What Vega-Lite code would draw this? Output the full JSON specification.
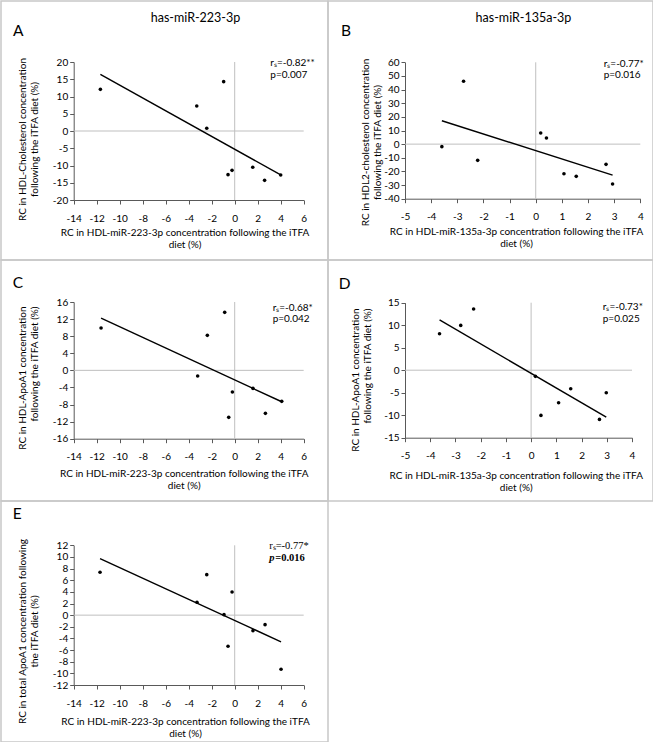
{
"$schema": "https://vega.github.io/schema/vega-lite/v6.json",
"padding": 0,
"background": "white",
"spacing": 0,
"bounds": "flush",
"columns": 2,
"config": {
  "font": "Lato",
  "view": {"stroke": "#c8c8c8", "strokeWidth": 1.5},
  "axis": {"domainColor": "#595959", "tickColor": "#595959", "labelColor": "#000", "labelFont": "Lato", "labelFontSize": 10, "titleFont": "Lato", "titleFontSize": 10, "titleFontWeight": "normal", "titleColor": "#000", "tickSize": 4, "grid": false, "titleLineHeight": 12, "labelFlush": false, "labelOverlap": false},
  "axisX": {"labelPadding": 9},
  "axisY": {"labelPadding": 2},
  "title": {"font": "Lato", "fontSize": 12.5, "fontWeight": "normal", "color": "#000"}
},
"datasets": {
  "a": [{"x":-11.68,"y":12.08},{"x":-3.3,"y":7.25},{"x":-2.43,"y":0.8},{"x":-0.96,"y":14.3},{"x":-0.58,"y":-12.66},{"x":-0.23,"y":-11.4},{"x":1.57,"y":-10.5},{"x":2.6,"y":-14.3},{"x":4.0,"y":-12.75}],
  "b": [{"x":-3.59,"y":-1.86},{"x":-2.76,"y":46.06},{"x":-2.22,"y":-11.9},{"x":0.19,"y":8.2},{"x":0.41,"y":4.5},{"x":1.08,"y":-21.66},{"x":1.55,"y":-23.6},{"x":2.69,"y":-14.8},{"x":2.94,"y":-29.24}],
  "c": [{"x":-11.62,"y":9.91},{"x":-3.22,"y":-1.33},{"x":-2.38,"y":8.19},{"x":-0.87,"y":13.58},{"x":-0.52,"y":-11.0},{"x":-0.2,"y":-5.08},{"x":1.59,"y":-4.22},{"x":2.67,"y":-10.07},{"x":4.09,"y":-7.26}],
  "d": [{"x":-3.63,"y":8.11},{"x":-2.79,"y":9.96},{"x":-2.28,"y":13.59},{"x":0.17,"y":-1.37},{"x":0.39,"y":-10.04},{"x":1.09,"y":-7.22},{"x":1.57,"y":-4.11},{"x":2.71,"y":-10.93},{"x":2.98,"y":-5.0}],
  "e": [{"x":-11.71,"y":7.36},{"x":-3.28,"y":2.21},{"x":-2.43,"y":6.96},{"x":-0.93,"y":0.09},{"x":-0.58,"y":-5.35},{"x":-0.23,"y":3.98},{"x":1.59,"y":-2.66},{"x":2.64,"y":-1.63},{"x":4.03,"y":-9.3}]
},
"concat": [
  {"width": 327, "height": 259,
   "title": {"text": "has-miR-223-3p", "anchor": "middle", "frame": "group", "dx": 31, "offset": -33, "baseline": "alphabetic"},
   "data": {"name": "a"},
   "layer": [
    {"data": {"values": [{}]}, "mark": {"type": "rule", "color": "#bfbfbf", "strokeWidth": 1}, "encoding": {"x": {"datum": 0}, "y": {"datum": -20}, "y2": {"datum": 20}}},
    {"data": {"values": [{}]}, "mark": {"type": "rule", "color": "#bfbfbf", "strokeWidth": 1}, "encoding": {"y": {"datum": 0}, "x": {"datum": -14}, "x2": {"datum": 6}}},
    {"mark": {"type": "point", "filled": true, "color": "#000", "size": 13, "opacity": 1},
     "encoding": {
      "x": {"field": "x", "type": "quantitative", "scale": {"domain": [-14, 6], "range": [72.7, 302.7], "nice": false, "zero": false},
            "axis": {"values": [-14,-12,-10,-8,-6,-4,-2,0,2,4,6], "tickCount": 50, "labelOverlap": false, "labelExpr": "'' + datum.value", "offset": -60, "title": ["RC in HDL-miR-223-3p concentration following the iTFA", "diet (%)"], "titleX": 183.5, "titleY": 27.5, "titleAlign": "center", "titleBaseline": "top"}},
      "y": {"field": "y", "type": "quantitative", "scale": {"domain": [-20, 20], "range": [199, 61], "nice": false, "zero": false},
            "axis": {"values": [-20,-15,-10,-5,0,5,10,15,20], "tickCount": 50, "labelOverlap": false, "labelExpr": "'' + datum.value", "offset": -72.7, "title": ["RC in HDL-Cholesterol concentration", "following the iTFA diet (%)"], "titleX": -51, "titleY": 138, "titleAngle": 270, "titleAlign": "center", "titleBaseline": "middle"}}
     }},
    {"transform": [{"regression": "y", "on": "x"}], "mark": {"type": "line", "color": "#000", "strokeWidth": 1.4}, "encoding": {"x": {"field": "x", "type": "quantitative"}, "y": {"field": "y", "type": "quantitative"}}},
    {"data": {"values": [{}]}, "mark": {"type": "text", "text": "A", "align": "left", "baseline": "alphabetic", "fontSize": 15.5}, "encoding": {"x": {"datum": -19.28}, "y": {"datum": 27.5}}},
    {"data": {"values": [{}]}, "mark": {"type": "text", "text": ["rₛ=-0.82**", "p=0.007"], "align": "left", "baseline": "alphabetic", "fontSize": 10, "lineHeight": 11.5}, "encoding": {"x": {"datum": 3.1}, "y": {"datum": 18.7}}}
   ]},
  {"width": 325, "height": 259,
   "title": {"text": "has-miR-135a-3p", "anchor": "middle", "frame": "group", "dx": 33, "offset": -33, "baseline": "alphabetic"},
   "data": {"name": "b"},
   "layer": [
    {"data": {"values": [{}]}, "mark": {"type": "rule", "color": "#bfbfbf", "strokeWidth": 1}, "encoding": {"x": {"datum": 0}, "y": {"datum": -40}, "y2": {"datum": 60}}},
    {"data": {"values": [{}]}, "mark": {"type": "rule", "color": "#bfbfbf", "strokeWidth": 1}, "encoding": {"y": {"datum": 0}, "x": {"datum": -5}, "x2": {"datum": 4}}},
    {"mark": {"type": "point", "filled": true, "color": "#000", "size": 13, "opacity": 1},
     "encoding": {
      "x": {"field": "x", "type": "quantitative", "scale": {"domain": [-5, 4], "range": [77, 312.3], "nice": false, "zero": false},
            "axis": {"values": [-5,-4,-3,-2,-1,0,1,2,3,4], "tickCount": 50, "labelOverlap": false, "labelExpr": "'' + datum.value", "offset": -61.3, "title": ["RC in HDL-miR-135a-3p concentration following the iTFA", "diet (%)"], "titleX": 188, "titleY": 27.3, "titleAlign": "center", "titleBaseline": "top"}},
      "y": {"field": "y", "type": "quantitative", "scale": {"domain": [-40, 60], "range": [197.7, 61.3], "nice": false, "zero": false},
            "axis": {"values": [-40,-30,-20,-10,0,10,20,30,40,50,60], "tickCount": 50, "labelOverlap": false, "labelExpr": "'' + datum.value", "offset": -77, "title": ["RC in HDL2-cholesterol concentration", "following the iTFA diet (%)"], "titleX": -40, "titleY": 141, "titleAngle": 270, "titleAlign": "center", "titleBaseline": "middle"}}
     }},
    {"transform": [{"regression": "y", "on": "x"}], "mark": {"type": "line", "color": "#000", "strokeWidth": 1.4}, "encoding": {"x": {"field": "x", "type": "quantitative"}, "y": {"field": "y", "type": "quantitative"}}},
    {"data": {"values": [{}]}, "mark": {"type": "text", "text": "B", "align": "left", "baseline": "alphabetic", "fontSize": 15.5}, "encoding": {"x": {"datum": -7.45}, "y": {"datum": 79.3}}},
    {"data": {"values": [{}]}, "mark": {"type": "text", "text": ["rₛ=-0.77*", "p=0.016"], "align": "left", "baseline": "alphabetic", "fontSize": 10, "lineHeight": 11.5}, "encoding": {"x": {"datum": 2.6}, "y": {"datum": 56.9}}}
   ]},
  {"width": 327, "height": 241,
   "data": {"name": "c"},
   "layer": [
    {"data": {"values": [{}]}, "mark": {"type": "rule", "color": "#bfbfbf", "strokeWidth": 1}, "encoding": {"x": {"datum": 0}, "y": {"datum": -16}, "y2": {"datum": 16}}},
    {"data": {"values": [{}]}, "mark": {"type": "rule", "color": "#bfbfbf", "strokeWidth": 1}, "encoding": {"y": {"datum": 0}, "x": {"datum": -14}, "x2": {"datum": 6}}},
    {"mark": {"type": "point", "filled": true, "color": "#000", "size": 13, "opacity": 1},
     "encoding": {
      "x": {"field": "x", "type": "quantitative", "scale": {"domain": [-14, 6], "range": [72.7, 302.7], "nice": false, "zero": false},
            "axis": {"values": [-14,-12,-10,-8,-6,-4,-2,0,2,4,6], "tickCount": 50, "labelOverlap": false, "labelExpr": "'' + datum.value", "offset": -62.3, "title": ["RC in HDL-miR-223-3p concentration following the iTFA", "diet (%)"], "titleX": 182.7, "titleY": 30, "titleAlign": "center", "titleBaseline": "top"}},
      "y": {"field": "y", "type": "quantitative", "scale": {"domain": [-16, 16], "range": [178.7, 42], "nice": false, "zero": false},
            "axis": {"values": [-16,-12,-8,-4,0,4,8,12,16], "tickCount": 50, "labelOverlap": false, "labelExpr": "'' + datum.value", "offset": -72.7, "title": ["RC in HDL-ApoA1 concentration", "following the iTFA diet (%)"], "titleX": -51, "titleY": 46, "titleAngle": 270, "titleAlign": "right", "titleBaseline": "middle"}}
     }},
    {"transform": [{"regression": "y", "on": "x"}], "mark": {"type": "line", "color": "#000", "strokeWidth": 1.4}, "encoding": {"x": {"field": "x", "type": "quantitative"}, "y": {"field": "y", "type": "quantitative"}}},
    {"data": {"values": [{}]}, "mark": {"type": "text", "text": "C", "align": "left", "baseline": "alphabetic", "fontSize": 15.5}, "encoding": {"x": {"datum": -19.3}, "y": {"datum": 19.35}}},
    {"data": {"values": [{}]}, "mark": {"type": "text", "text": ["rₛ=-0.68*", "p=0.042"], "align": "left", "baseline": "alphabetic", "fontSize": 10, "lineHeight": 11.5}, "encoding": {"x": {"datum": 3.3}, "y": {"datum": 14.0}}}
   ]},
  {"width": 325, "height": 241,
   "data": {"name": "d"},
   "layer": [
    {"data": {"values": [{}]}, "mark": {"type": "rule", "color": "#bfbfbf", "strokeWidth": 1}, "encoding": {"x": {"datum": 0}, "y": {"datum": -15}, "y2": {"datum": 15}}},
    {"data": {"values": [{}]}, "mark": {"type": "rule", "color": "#bfbfbf", "strokeWidth": 1}, "encoding": {"y": {"datum": 0}, "x": {"datum": -5}, "x2": {"datum": 4}}},
    {"mark": {"type": "point", "filled": true, "color": "#000", "size": 13, "opacity": 1},
     "encoding": {
      "x": {"field": "x", "type": "quantitative", "scale": {"domain": [-5, 4], "range": [77, 304], "nice": false, "zero": false},
            "axis": {"values": [-5,-4,-3,-2,-1,0,1,2,3,4], "tickCount": 50, "labelOverlap": false, "labelExpr": "'' + datum.value", "offset": -63.3, "title": ["RC in HDL-miR-135a-3p concentration following the iTFA", "diet (%)"], "titleX": 187.7, "titleY": 33, "titleAlign": "center", "titleBaseline": "top"}},
      "y": {"field": "y", "type": "quantitative", "scale": {"domain": [-15, 15], "range": [177.7, 42.7], "nice": false, "zero": false},
            "axis": {"values": [-15,-10,-5,0,5,10,15], "tickCount": 50, "labelOverlap": false, "labelExpr": "'' + datum.value", "offset": -77, "title": ["RC in HDL-ApoA1 concentration", "following the iTFA diet (%)"], "titleX": -50, "titleY": 48, "titleAngle": 270, "titleAlign": "right", "titleBaseline": "middle"}}
     }},
    {"transform": [{"regression": "y", "on": "x"}], "mark": {"type": "line", "color": "#000", "strokeWidth": 1.4}, "encoding": {"x": {"field": "x", "type": "quantitative"}, "y": {"field": "y", "type": "quantitative"}}},
    {"data": {"values": [{}]}, "mark": {"type": "text", "text": "D", "align": "left", "baseline": "alphabetic", "fontSize": 15.5}, "encoding": {"x": {"datum": -7.63}, "y": {"datum": 18}}},
    {"data": {"values": [{}]}, "mark": {"type": "text", "text": ["rₛ=-0.73*", "p=0.025"], "align": "left", "baseline": "alphabetic", "fontSize": 10, "lineHeight": 11.5}, "encoding": {"x": {"datum": 2.84}, "y": {"datum": 13.27}}}
   ]},
  {"width": 327, "height": 241,
   "data": {"name": "e"},
   "layer": [
    {"data": {"values": [{}]}, "mark": {"type": "rule", "color": "#bfbfbf", "strokeWidth": 1}, "encoding": {"x": {"datum": 0}, "y": {"datum": -12}, "y2": {"datum": 12}}},
    {"data": {"values": [{}]}, "mark": {"type": "rule", "color": "#bfbfbf", "strokeWidth": 1}, "encoding": {"y": {"datum": 0}, "x": {"datum": -14}, "x2": {"datum": 6}}},
    {"mark": {"type": "point", "filled": true, "color": "#000", "size": 13, "opacity": 1},
     "encoding": {
      "x": {"field": "x", "type": "quantitative", "scale": {"domain": [-14, 6], "range": [72.7, 302.7], "nice": false, "zero": false},
            "axis": {"values": [-14,-12,-10,-8,-6,-4,-2,0,2,4,6], "tickCount": 50, "labelOverlap": false, "labelExpr": "'' + datum.value", "offset": -57, "title": ["RC in HDL-miR-223-3p concentration  following the iTFA", "diet (%)"], "titleX": 184, "titleY": 31, "titleAlign": "center", "titleBaseline": "top"}},
      "y": {"field": "y", "type": "quantitative", "scale": {"domain": [-12, 12], "range": [184, 44.3], "nice": false, "zero": false},
            "axis": {"values": [-12,-10,-8,-6,-4,-2,0,2,4,6,8,10,12], "tickCount": 50, "labelOverlap": false, "labelExpr": "'' + datum.value", "offset": -72.7, "title": ["RC in total ApoA1 concentration following", "the iTFA diet (%)"], "titleX": -51, "titleY": 130, "titleAngle": 270, "titleAlign": "center", "titleBaseline": "middle"}}
     }},
    {"transform": [{"regression": "y", "on": "x"}], "mark": {"type": "line", "color": "#000", "strokeWidth": 1.4}, "encoding": {"x": {"field": "x", "type": "quantitative"}, "y": {"field": "y", "type": "quantitative"}}},
    {"data": {"values": [{}]}, "mark": {"type": "text", "text": "E", "align": "left", "baseline": "alphabetic", "fontSize": 15.5}, "encoding": {"x": {"datum": -19.3}, "y": {"datum": 16.47}}},
    {"data": {"values": [{}]}, "mark": {"type": "text", "text": "rₛ=-0.77*", "align": "left", "baseline": "alphabetic", "fontSize": 10.5, "font": "Liberation Serif"}, "encoding": {"x": {"datum": 3.0}, "y": {"datum": 11.28}}},
    {"data": {"values": [{}]}, "mark": {"type": "text", "text": "p", "align": "left", "baseline": "alphabetic", "fontSize": 10.5, "font": "Liberation Serif", "fontWeight": "bold", "fontStyle": "italic"}, "encoding": {"x": {"datum": 3.0}, "y": {"datum": 9.27}}},
    {"data": {"values": [{}]}, "mark": {"type": "text", "text": "=0.016", "align": "left", "baseline": "alphabetic", "fontSize": 10.5, "font": "Liberation Serif", "fontWeight": "bold", "dx": 6}, "encoding": {"x": {"datum": 3.0}, "y": {"datum": 9.27}}}
   ]},
  {"width": 325, "height": 241, "data": {"values": []}, "mark": "point"}
]
}
